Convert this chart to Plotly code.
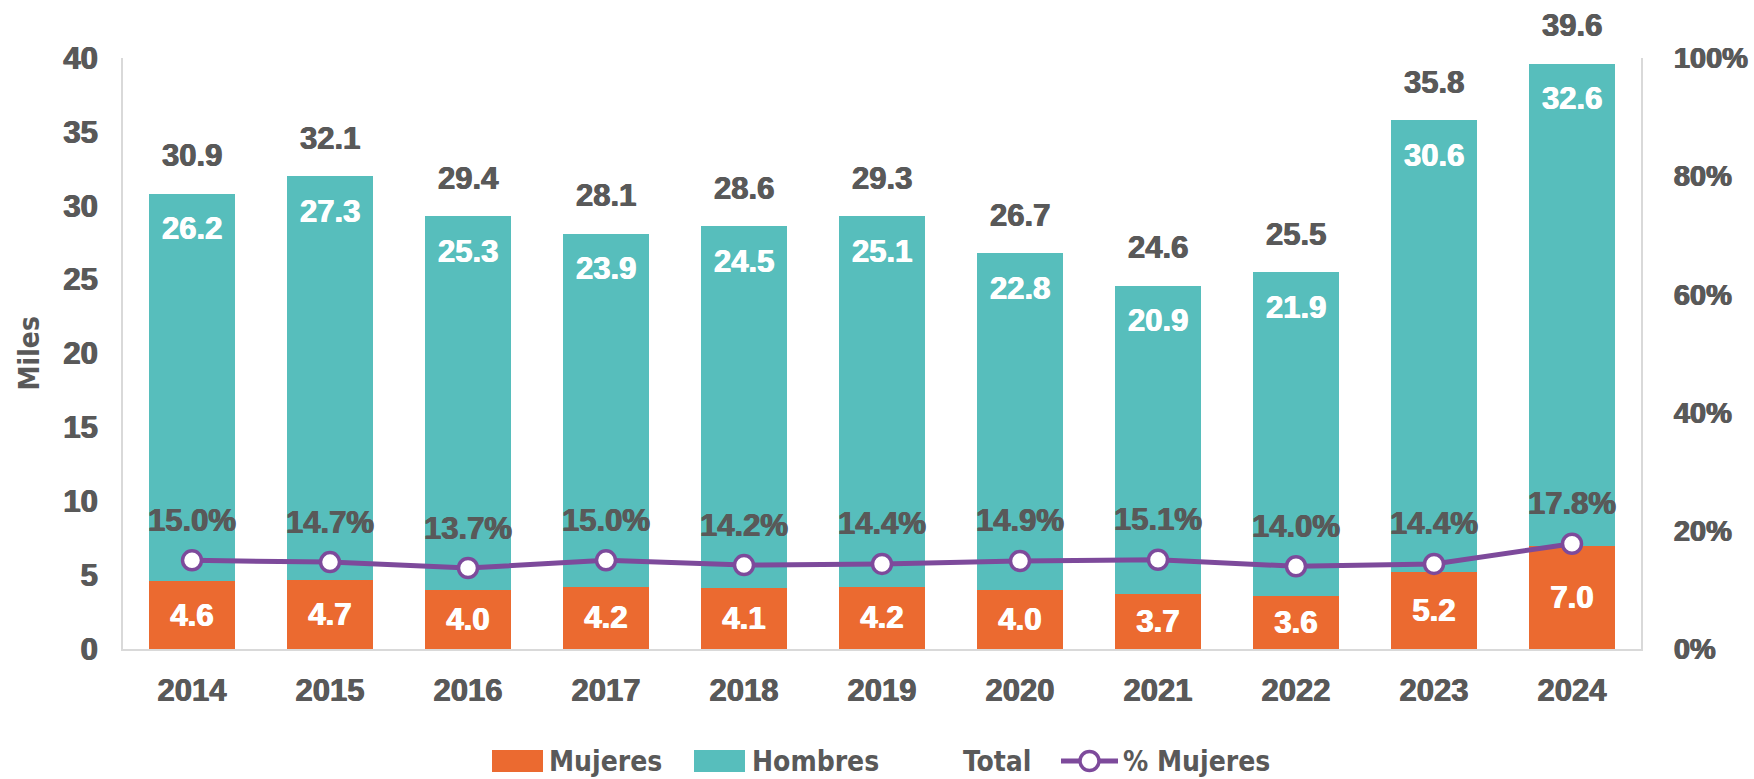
import plotly.graph_objects as go

# Data (thousands of people, and share of women in %)
years = ["2014", "2015", "2016", "2017", "2018", "2019", "2020", "2021", "2022", "2023", "2024"]
mujeres = [4.6, 4.7, 4.0, 4.2, 4.1, 4.2, 4.0, 3.7, 3.6, 5.2, 7.0]
hombres = [26.2, 27.3, 25.3, 23.9, 24.5, 25.1, 22.8, 20.9, 21.9, 30.6, 32.6]
total = [30.9, 32.1, 29.4, 28.1, 28.6, 29.3, 26.7, 24.6, 25.5, 35.8, 39.6]
pct_mujeres = [15.0, 14.7, 13.7, 15.0, 14.2, 14.4, 14.9, 15.1, 14.0, 14.4, 17.8]

y_ticks = [0, 5, 10, 15, 20, 25, 30, 35, 40]
y2_ticks = [0, 20, 40, 60, 80, 100]
y2_labels = ["0%", "20%", "40%", "60%", "80%", "100%"]

ORANGE = "#EB6A30"
TEAL = "#57BEBC"
PURPLE = "#7D4A9B"
GREY = "#595959"
AXIS_GREY = "#D9D9D9"
FONT = "Liberation Sans"
FONT_NARROW = "DejaVu Sans Condensed, Liberation Sans"


def heavy(color):
    # slight horizontal shadow to thicken the strokes
    return f"0.6px 0 0 {color}, -0.6px 0 0 {color}"


def label_font(color, size=31):
    return dict(family=FONT, size=size, color=color, weight="bold", shadow=heavy(color))


W, H = 1754, 779
L, R, T, B = 123, 113, 58, 130
PW, PH = W - L - R, H - T - B


def px_x(px):
    return (px - L) / PW


def px_y(py):
    return (H - B - py) / PH


fig = go.Figure()

fig.add_trace(go.Bar(
    x=years, y=mujeres, name="Mujeres", marker=dict(color=ORANGE, line=dict(width=0)),
    text=[f"{v:.1f}" for v in mujeres], textposition="inside", insidetextanchor="middle",
    constraintext="none", textangle=0,
    textfont=label_font("white"),
    showlegend=False,
))
fig.add_trace(go.Bar(
    x=years, y=hombres, name="Hombres", marker=dict(color=TEAL, line=dict(width=0)),
    showlegend=False,
))
fig.add_trace(go.Scatter(
    x=years, y=pct_mujeres, name="% Mujeres", yaxis="y2", mode="lines+markers",
    line=dict(color=PURPLE, width=5),
    marker=dict(size=19, color="white", line=dict(color=PURPLE, width=3.5)),
    showlegend=False,
))

annotations = []
for i, (m, h, t, p) in enumerate(zip(mujeres, hombres, total, pct_mujeres)):
    # Hombres value at the top inside the bar
    annotations.append(dict(x=i, y=m + h, xref="x", yref="y", text=f"{h:.1f}",
                            showarrow=False, yshift=-35, font=label_font("white")))
    # Total above the bar
    annotations.append(dict(x=i, y=m + h, xref="x", yref="y", text=f"{t:.1f}",
                            showarrow=False, yshift=38, font=label_font(GREY)))
    # Share of women above the marker
    annotations.append(dict(x=i, y=p, xref="x", yref="y2", text=f"{p:.1f}%",
                            showarrow=False, yshift=40, font=label_font(GREY)))

# Axis title
annotations.append(dict(x=px_x(29), y=0.5, xref="paper", yref="paper", text="Miles",
                        textangle=-90, showarrow=False, xanchor="center", yanchor="middle",
                        font=dict(family=FONT_NARROW, size=28, color=GREY, weight="bold")))

# Legend drawn below the plot
legend_font = dict(family=FONT_NARROW, size=28, color=GREY, weight="bold")
ly = px_y(761)
shapes = [
    dict(type="rect", xref="paper", yref="paper", x0=px_x(492), x1=px_x(543),
         y0=px_y(772), y1=px_y(750), fillcolor=ORANGE, line=dict(width=0)),
    dict(type="rect", xref="paper", yref="paper", x0=px_x(694), x1=px_x(745),
         y0=px_y(772), y1=px_y(750), fillcolor=TEAL, line=dict(width=0)),
    dict(type="line", xref="paper", yref="paper", x0=px_x(1061), x1=px_x(1118),
         y0=ly, y1=ly, line=dict(color=PURPLE, width=5)),
    dict(type="circle", xref="paper", yref="paper", x0=px_x(1080), x1=px_x(1099),
         y0=px_y(770.5), y1=px_y(751.5), fillcolor="white", line=dict(color=PURPLE, width=3.5)),
]
for label, x0 in [("Mujeres", 547), ("Hombres", 750), ("Total", 961), ("% Mujeres", 1121)]:
    annotations.append(dict(x=px_x(x0), y=ly, xref="paper", yref="paper", text=label,
                            showarrow=False, xanchor="left", yanchor="middle",
                            font=legend_font))

fig.update_layout(
    width=W, height=H,
    margin=dict(l=L, r=R, t=T, b=B, pad=0),
    paper_bgcolor="white", plot_bgcolor="white",
    barmode="stack", bargap=0.37,
    showlegend=False,
    annotations=annotations,
    shapes=shapes,
    xaxis=dict(
        type="category", range=[-0.5, len(years) - 0.5], automargin=False,
        showline=True, linecolor=AXIS_GREY, linewidth=2, showgrid=False,
        ticks="outside", ticklen=13, tickcolor="rgba(0,0,0,0)",
        tickfont=label_font(GREY),
    ),
    yaxis=dict(
        range=[0, 40], tickvals=y_ticks, showgrid=False, zeroline=False, automargin=False,
        showline=True, linecolor=AXIS_GREY, linewidth=2,
        ticks="outside", ticklen=17, tickcolor="rgba(0,0,0,0)",
        tickfont=label_font(GREY),
    ),
    yaxis2=dict(
        range=[0, 100], tickvals=y2_ticks, ticktext=y2_labels, overlaying="y", side="right",
        showgrid=False, zeroline=False, automargin=False,
        showline=True, linecolor=AXIS_GREY, linewidth=2,
        ticks="outside", ticklen=25, tickcolor="rgba(0,0,0,0)",
        tickfont=label_font(GREY, 29),
    ),
)

fig.write_html("out.html")
